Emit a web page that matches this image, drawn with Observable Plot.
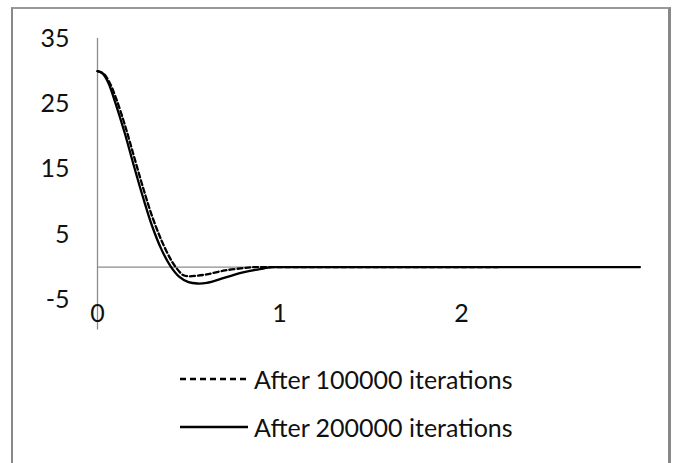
<!DOCTYPE html>
<html>
<head>
<meta charset="utf-8">
<script src="https://cdn.jsdelivr.net/npm/d3@7"></script>
<script src="https://cdn.jsdelivr.net/npm/@observablehq/plot@0.6"></script>
<style>
  html, body { margin: 0; padding: 0; background: #fff; }
  body { width: 676px; height: 463px; position: relative; overflow: hidden; font-family: Lato, "Open Sans", sans-serif; }
  #frame { position: absolute; left: 11px; top: 7px; width: 655px; height: 470px; border-top: 2px solid #999; border-left: 2px solid #888; border-right: 3px solid #888; }
  #chart { position: absolute; left: 0; top: 0; }
  #legend { position: absolute; left: 180px; top: 364px; font-size: 25px; color: #111; }
  .row { display: flex; align-items: center; height: 30px; margin-bottom: 18px; }
  .row svg { margin-right: 6px; }
</style>
</head>
<body>
<div id="frame"></div>
<div id="chart"></div>
<div id="legend"></div>
<script>
// Data
const seriesNames = ["After 100000 iterations", "After 200000 iterations"];

const x100k = [0, 0.03, 0.06, 0.1, 0.15, 0.2, 0.25, 0.3, 0.35, 0.4, 0.43, 0.47, 0.5, 0.55, 0.6, 0.7, 0.8, 0.86, 1.0, 1.5, 2.2];
const y100k = [30, 29.7, 28.6, 26, 21.8, 17, 12.2, 7.8, 4.2, 1.3, 0, -1.2, -1.4, -1.3, -1.1, -0.5, -0.15, 0, 0, 0, 0];

const x200k = [0, 0.03, 0.06, 0.1, 0.15, 0.2, 0.25, 0.3, 0.35, 0.4, 0.45, 0.5, 0.55, 0.6, 0.7, 0.8, 0.9, 0.96, 1.0, 2.0, 2.98];
const y200k = [30, 29.6, 28.2, 25, 20.5, 15.5, 10.7, 6.3, 2.8, 0.2, -1.5, -2.3, -2.5, -2.4, -1.6, -0.8, -0.25, 0, 0, 0, 0];

const xTicks = [0, 1, 2];
const yTicks = [-5, 5, 15, 25, 35];
const xDomain = [0, 3];
const yDomain = [-10, 35];
const yAxisExtent = [-9.6, 35];

const d100 = x100k.map((x, i) => ({x, y: y100k[i]}));
const d200 = x200k.map((x, i) => ({x, y: y200k[i]}));

const gray = "#8c8c8c";
const font = "Lato, 'Open Sans', sans-serif";

const chart = Plot.plot({
  width: 676,
  height: 340,
  marginLeft: 97,
  marginRight: 33,
  marginTop: 38,
  marginBottom: 8,
  style: { fontFamily: font, fontSize: "25px", color: "#111", background: "transparent", overflow: "visible" },
  x: { domain: xDomain, label: null },
  y: { domain: yDomain, label: null },
  marks: [
    Plot.ruleX([0], { y1: yAxisExtent[0], y2: yAxisExtent[1], stroke: gray, strokeWidth: 1.3 }),
    Plot.ruleY([0], { x1: xDomain[0], x2: xDomain[1] * 0.995, stroke: gray, strokeWidth: 1.3 }),
    Plot.axisY({ ticks: yTicks, tickSize: 0, tickPadding: 28, tickFormat: d => String(d), fill: "#111", fontSize: 25, label: null }),
    Plot.axisX({ ticks: xTicks, tickSize: 0, tickPadding: 0, dy: -28, tickFormat: d => String(d), fill: "#111", fontSize: 25, label: null }),
    Plot.line(d200, { x: "x", y: "y", stroke: "#000", strokeWidth: 2.3, curve: "catmull-rom" }),
    Plot.line(d100, { x: "x", y: "y", stroke: "#000", strokeWidth: 2.3, strokeDasharray: "5,3", curve: "catmull-rom" })
  ]
});
document.getElementById("chart").appendChild(chart);

// Legend
const legend = d3.select("#legend");
const dashes = ["6,4", null];
seriesNames.forEach((name, i) => {
  const row = legend.append("div").attr("class", "row");
  const s = row.append("svg").attr("width", 68).attr("height", 10);
  const l = s.append("line").attr("x1", 0).attr("x2", 68).attr("y1", 5).attr("y2", 5)
    .attr("stroke", "#000").attr("stroke-width", 2.3);
  if (dashes[i]) l.attr("stroke-dasharray", dashes[i]);
  row.append("span").text(name);
});
</script>
</body>
</html>
